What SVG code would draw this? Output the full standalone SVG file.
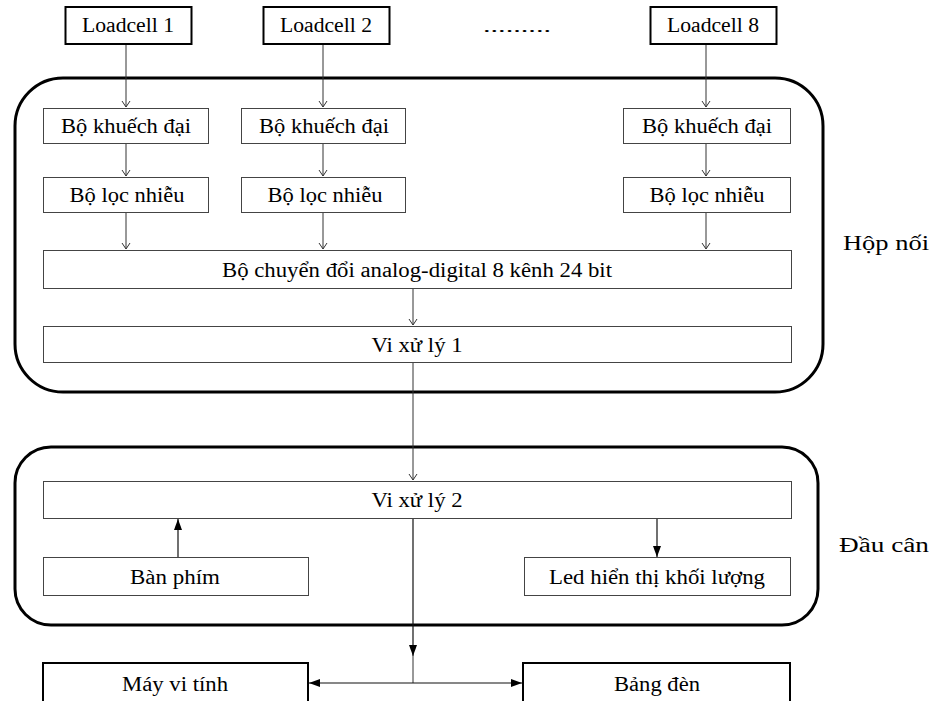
<svg xmlns="http://www.w3.org/2000/svg" width="933" height="701" viewBox="0 0 933 701">
<defs>
<marker id="open" markerWidth="10" markerHeight="10" refX="6" refY="5" orient="auto" markerUnits="userSpaceOnUse">
<path d="M0,1 L6,5 L0,9" fill="none" stroke="#333" stroke-width="1"/>
</marker>
<marker id="fill" markerWidth="12" markerHeight="10" refX="11" refY="5" orient="auto" markerUnits="userSpaceOnUse">
<path d="M0,1 L11,5 L0,9 Z" fill="#000"/>
</marker>
</defs>
<style>
text{font-family:"Liberation Serif","Times New Roman",serif;font-size:20px;fill:#000;text-anchor:middle}
.thin{fill:#fff;stroke:#444;stroke-width:1}
.thick{fill:#fff;stroke:#000;stroke-width:2}
.group{fill:none;stroke:#000;stroke-width:3}
.c{fill:none;stroke:#333;stroke-width:1}
.cb{fill:none;stroke:#111;stroke-width:1.2}
</style>
<g id="group-hopnoi">
<rect class="group" x="15" y="78" width="808" height="314" rx="48" ry="48"/>
<text x="886" y="250" textLength="86" lengthAdjust="spacingAndGlyphs">Hộp nối</text>
</g>
<g id="group-daucan">
<rect class="group" x="15" y="447" width="803" height="178" rx="36" ry="36"/>
<text x="884" y="552" textLength="90" lengthAdjust="spacingAndGlyphs">Đầu cân</text>
</g>
<g id="connectors">
<line class="c" x1="126" y1="44" x2="126" y2="107" marker-end="url(#open)"/>
<line class="c" x1="126" y1="144" x2="126" y2="176" marker-end="url(#open)"/>
<line class="c" x1="126" y1="213" x2="126" y2="249" marker-end="url(#open)"/>
<line class="c" x1="323" y1="44" x2="323" y2="107" marker-end="url(#open)"/>
<line class="c" x1="323" y1="144" x2="323" y2="176" marker-end="url(#open)"/>
<line class="c" x1="323" y1="213" x2="323" y2="249" marker-end="url(#open)"/>
<line class="c" x1="706" y1="44" x2="706" y2="107" marker-end="url(#open)"/>
<line class="c" x1="706" y1="144" x2="706" y2="176" marker-end="url(#open)"/>
<line class="c" x1="706" y1="213" x2="706" y2="249" marker-end="url(#open)"/>
<line class="c" x1="413" y1="289" x2="413" y2="325" marker-end="url(#open)"/>
<line class="c" x1="413" y1="363" x2="413" y2="480" marker-end="url(#open)"/>
<line class="cb" x1="178" y1="557" x2="178" y2="519" marker-end="url(#fill)"/>
<line class="cb" x1="657" y1="519" x2="657" y2="557" marker-end="url(#fill)"/>
<line class="cb" x1="413" y1="519" x2="413" y2="656" marker-end="url(#fill)"/>
<line class="c" x1="413" y1="656" x2="413" y2="683"/>
<line class="cb" x1="413" y1="683" x2="309" y2="683" marker-end="url(#fill)"/>
<line class="cb" x1="413" y1="683" x2="522" y2="683" marker-end="url(#fill)"/>
</g>
<g id="loadcell1"><rect class="thick" x="65.5" y="7" width="126" height="37"/><text x="128" y="32" textLength="92" lengthAdjust="spacingAndGlyphs">Loadcell 1</text></g>
<g id="loadcell2"><rect class="thick" x="263.5" y="7" width="126" height="37"/><text x="326" y="32" textLength="92" lengthAdjust="spacingAndGlyphs">Loadcell 2</text></g>
<g id="dots"><text x="517" y="32" textLength="68" lengthAdjust="spacingAndGlyphs" style="font-size:16px">.........</text></g>
<g id="loadcell8"><rect class="thick" x="650.5" y="7" width="126" height="37"/><text x="713" y="32" textLength="92" lengthAdjust="spacingAndGlyphs">Loadcell 8</text></g>
<g id="amp1"><rect class="thin" x="43.5" y="108.5" width="165" height="35"/><text x="126" y="133" textLength="130" lengthAdjust="spacingAndGlyphs">Bộ khuếch đại</text></g>
<g id="amp2"><rect class="thin" x="241.5" y="108.5" width="164" height="35"/><text x="324" y="133" textLength="130" lengthAdjust="spacingAndGlyphs">Bộ khuếch đại</text></g>
<g id="amp8"><rect class="thin" x="623.5" y="108.5" width="167" height="35"/><text x="707" y="133" textLength="130" lengthAdjust="spacingAndGlyphs">Bộ khuếch đại</text></g>
<g id="filter1"><rect class="thin" x="43.5" y="177.5" width="165" height="35"/><text x="127" y="202" textLength="115" lengthAdjust="spacingAndGlyphs">Bộ lọc nhiễu</text></g>
<g id="filter2"><rect class="thin" x="241.5" y="177.5" width="164" height="35"/><text x="325" y="202" textLength="115" lengthAdjust="spacingAndGlyphs">Bộ lọc nhiễu</text></g>
<g id="filter8"><rect class="thin" x="623.5" y="177.5" width="167" height="35"/><text x="707" y="202" textLength="115" lengthAdjust="spacingAndGlyphs">Bộ lọc nhiễu</text></g>
<g id="adc"><rect class="thin" x="43.5" y="250.5" width="748" height="38"/><text x="417" y="277" textLength="390" lengthAdjust="spacingAndGlyphs">Bộ chuyển đổi analog-digital 8 kênh 24 bit</text></g>
<g id="mcu1"><rect class="thin" x="43.5" y="326.5" width="748" height="36"/><text x="417" y="352" textLength="91" lengthAdjust="spacingAndGlyphs">Vi xử lý 1</text></g>
<g id="mcu2"><rect class="thin" x="43.5" y="481.5" width="748" height="37"/><text x="417" y="507" textLength="91" lengthAdjust="spacingAndGlyphs">Vi xử lý 2</text></g>
<g id="keypad"><rect class="thin" x="43.5" y="557.5" width="265" height="38"/><text x="175" y="584" textLength="90" lengthAdjust="spacingAndGlyphs">Bàn phím</text></g>
<g id="led"><rect class="thin" x="524.5" y="557.5" width="266" height="38"/><text x="657" y="584" textLength="216" lengthAdjust="spacingAndGlyphs">Led hiển thị khối lượng</text></g>
<g id="pc"><rect class="thick" x="43" y="663" width="265" height="50"/><text x="175" y="691" textLength="106" lengthAdjust="spacingAndGlyphs">Máy vi tính</text></g>
<g id="board"><rect class="thick" x="523" y="663" width="267" height="50"/><text x="657" y="691" textLength="86" lengthAdjust="spacingAndGlyphs">Bảng đèn</text></g>
</svg>
